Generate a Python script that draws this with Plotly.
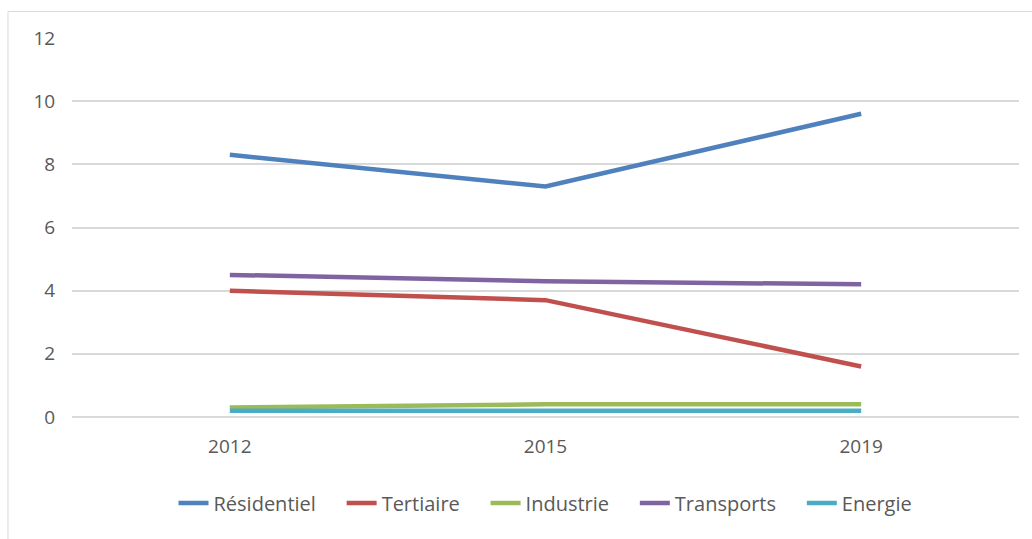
import plotly.graph_objects as go

years = ["2012", "2015", "2019"]
residentiel = [8.3, 7.3, 9.6]
tertiaire = [4.0, 3.7, 1.6]
industrie = [0.3, 0.4, 0.4]
transports = [4.5, 4.3, 4.2]
energie = [0.2, 0.2, 0.2]

series = [
    ("Résidentiel", residentiel, "#4F81BD"),
    ("Tertiaire", tertiaire, "#C0504D"),
    ("Industrie", industrie, "#9BBB59"),
    ("Transports", transports, "#8064A2"),
    ("Energie", energie, "#4BACC6"),
]

y_ticks = [0, 2, 4, 6, 8, 10, 12]

# non-breaking spaces widen the gap between legend entries
pad = "\u00a0" * 4

fig = go.Figure()
for i, (name, values, color) in enumerate(series):
    label = name if i == len(series) - 1 else name + pad
    fig.add_trace(go.Scatter(
        x=years, y=values, name=label, mode="lines",
        line=dict(color=color, width=4.5),
    ))

family = "'Open Sans', 'Noto Sans', sans-serif"
grey = "#595959"

fig.update_layout(
    width=1032, height=539,
    margin=dict(l=72, r=13, t=38, b=122),
    paper_bgcolor="white", plot_bgcolor="white",
    font=dict(family=family, size=19, color=grey),
    showlegend=True,
    legend=dict(orientation="h", x=0.5, xanchor="center", y=-0.227, yanchor="middle",
                font=dict(family=family, size=20, color=grey), itemwidth=30,
                traceorder="normal", tracegroupgap=0),
    xaxis=dict(
        type="category", range=[-0.5, 2.5], showgrid=False, zeroline=False,
        showline=False, ticks="outside", ticklen=12, tickcolor="rgba(0,0,0,0)",
        tickfont=dict(family=family, size=19, color=grey),
    ),
    yaxis=dict(
        range=[0, 12], tickvals=y_ticks, showgrid=True, gridcolor="#D9D9D9",
        gridwidth=1.5, zeroline=True, zerolinecolor="#D9D9D9", zerolinewidth=1.5,
        showline=False, ticks="outside", ticklen=12, tickcolor="rgba(0,0,0,0)",
        tickfont=dict(family=family, size=19, color=grey),
    ),
    shapes=[dict(
        type="rect", xref="paper", yref="paper",
        x0=-0.0676, x1=1.05, y0=-0.35, y1=1.070,
        line=dict(color="#D9D9D9", width=1), layer="below",
    )],
)

fig.write_html("out.html")
